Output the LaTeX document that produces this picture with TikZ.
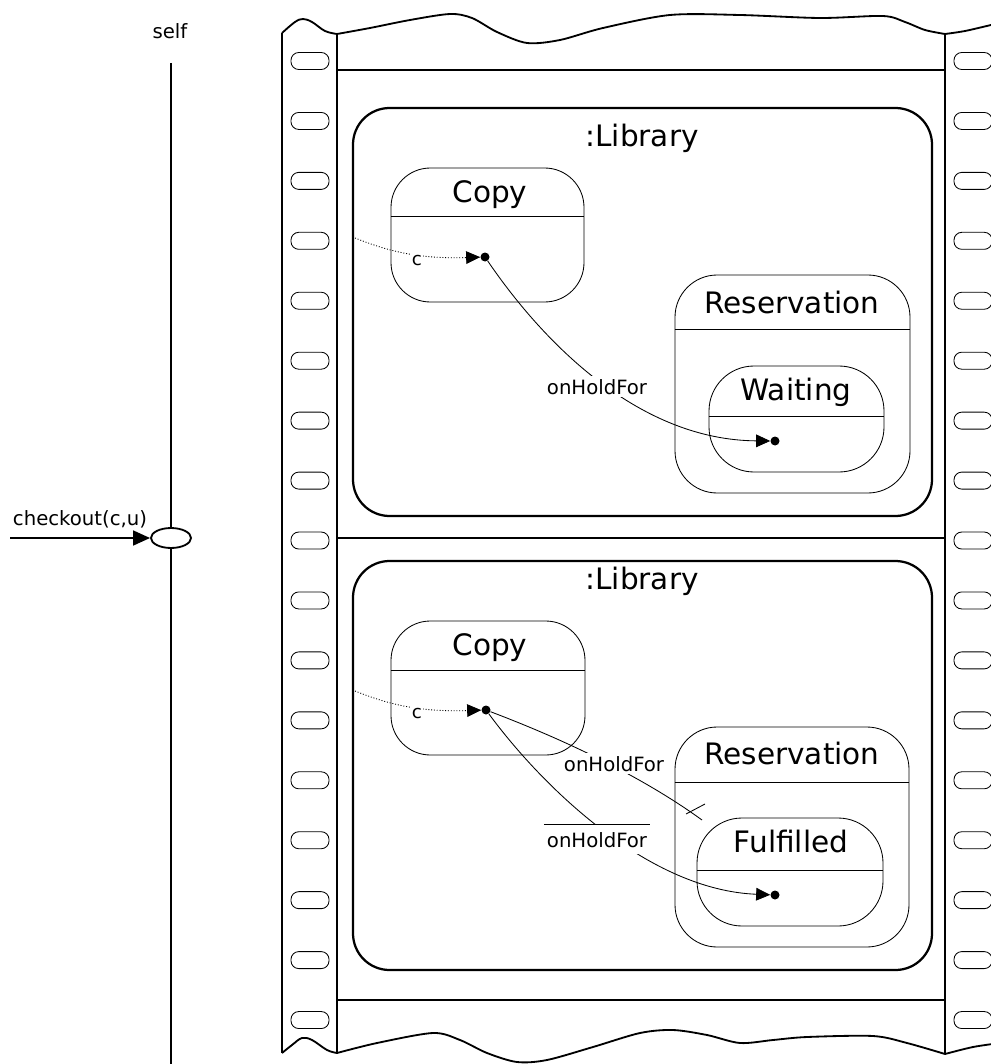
\documentclass[tikz,border=0pt]{standalone}
\usepackage{fontspec}
\setmainfont{DejaVu Sans}
\usetikzlibrary{arrows.meta,shapes.geometric,fit,calc}
\begin{document}
\begin{tikzpicture}[x=0.025cm,y=-0.025cm,
  big/.style={font=\fontsize{21pt}{25pt}\selectfont, anchor=base, inner sep=0pt},
  small/.style={font=\fontsize{14pt}{16pt}\selectfont, anchor=base},
  strip/.style={line width=1.3pt},
  hole/.style={line width=0.6pt, rounded corners=5.5pt},
  libbox/.style={draw, line width=1.6pt, rounded corners=26pt, inner sep=0pt},
  statebox/.style={draw, line width=0.6pt, rounded corners=28pt, inner sep=0pt},
  dotn/.style={circle, fill, inner sep=0pt, minimum size=6.4pt},
  conn/.style={line width=0.6pt},
  arr/.style={-{Triangle[length=10pt,width=9pt]}},
  lbl/.style={small, fill=white, inner sep=2pt},
  dots/.style={dash pattern=on 0.7pt off 1.3pt},
]
\useasboundingbox (0,0) rectangle (991,1064);
\clip (0,0) rectangle (991,1064);

% ---------- film strip ----------
\draw[strip] plot[smooth, tension=0.6] coordinates {(282,33) (295,22) (303,19) (312,22) (325,31) (337,34)};
\draw[strip] plot[smooth] coordinates {(337,34) (370,28) (410,20) (450,14) (472,18) (497,32) (527,43) (560,40) (603,28) (670,15) (740,15) (820,18) (883,16) (905,22) (925,30) (945,34)};
\draw[strip] plot[smooth] coordinates {(945,34) (965,31) (991,25) (1000,23)};
\draw[strip] plot[smooth, tension=0.6] coordinates {(282,1053) (292,1045) (302,1038) (312,1040) (327,1050) (337,1053)};
\draw[strip] plot[smooth] coordinates {(337,1053) (377,1043) (433,1033) (460,1040) (487,1053) (517,1062) (547,1060) (593,1047) (640,1033) (673,1030) (707,1035) (740,1043) (773,1040) (807,1037) (873,1036) (907,1043) (945,1054)};
\draw[strip] plot[smooth] coordinates {(945,1054) (973,1047) (1000,1043)};
\draw[strip] (282,33) -- (282,1053);
\draw[strip] (337,34) -- (337,1053);
\draw[strip] (945,34) -- (945,1054);
\draw[strip] (337,70) -- (945,70);
\draw[strip] (337,538) -- (945,538);
\draw[strip] (337,1000) -- (945,1000);
\foreach \i in {0,...,16} {
  \pgfmathsetmacro\yy{61+59.94*\i}
  \draw[hole] (291,\yy-8.5) rectangle (329,\yy+8.5);
  \draw[hole] (954,\yy-8.5) rectangle (992,\yy+8.5);
}

% ---------- lifeline ----------
\node[small] (self) at (170,39) {self};
\node[draw, ellipse, line width=1.3pt, minimum width=28.5pt, minimum height=14.2pt, inner sep=0pt] (act) at (171,538) {};
\coordinate (lltop) at (171,63);
\coordinate (llbot) at (171,1070);
\draw[line width=1.2pt] (lltop) -- (act);
\draw[line width=1.2pt] (act) -- (llbot);
\coordinate (msg) at (10,538);
\draw[line width=1.5pt, -{Triangle[length=12pt,width=10.5pt]}] (msg) -- (act);
\node[small] (chk) at (80,525) {checkout(c,u)};

% ---------- top panel ----------
\node[libbox, fit={(353,108) (932,516)}] (lib1) {};
\node[big] (lib1t) at (642,147) {:Library};
\node[statebox, fit={(391,168) (584,302)}] (copy1) {};
\draw[conn] (copy1.west |- 0,216) -- (copy1.east |- 0,216);
\node[big] (copy1t) at (490,202) {Copy};
\node[statebox, rounded corners=30pt, fit={(675,275) (910,493)}] (res1) {};
\draw[conn] (res1.west |- 0,329) -- (res1.east |- 0,329);
\node[big] (res1t) at (792,313) {Reservation};
\node[statebox, rounded corners=32pt, fit={(709,366) (884,472)}] (wait) {};
\draw[conn] (wait.west |- 0,416) -- (wait.east |- 0,416);
\node[big] (waitt) at (796,400) {Waiting};
\node[dotn] (d1) at (485,257) {};
\node[dotn] (d2) at (775,441) {};
\coordinate (cin1) at (355,238);
\draw[conn, dots, arr] (cin1) .. controls (390,252) and (420,259) .. (d1);
\node[small, fill=white, inner sep=1pt, font=\fontsize{13pt}{15pt}\selectfont] (c1) at (417,265) {c};
\draw[conn, arr] (d1) .. controls (545,345) and (640,440) .. (d2);
\node[lbl] (h1) at (597,394) {onHoldFor};

% ---------- bottom panel ----------
\node[libbox, fit={(353,561) (932,970)}] (lib2) {};
\node[big] (lib2t) at (642,589) {:Library};
\node[statebox, fit={(391,621) (585,755)}] (copy2) {};
\draw[conn] (copy2.west |- 0,670) -- (copy2.east |- 0,670);
\node[big] (copy2t) at (490,655) {Copy};
\node[statebox, rounded corners=30pt, fit={(675,727) (909,947)}] (res2) {};
\draw[conn] (res2.west |- 0,782) -- (res2.east |- 0,782);
\node[big] (res2t) at (792,764) {Reservation};
\node[statebox, rounded corners=32pt, fit={(697,818) (883,926)}] (ful) {};
\draw[conn] (ful.west |- 0,870) -- (ful.east |- 0,870);
\node[big] (fult) at (791,852) {Fulfilled};
\node[dotn] (d3) at (486,710) {};
\node[dotn] (d4) at (775,895) {};
\coordinate (cin2) at (355,691);
\draw[conn, dots, arr] (cin2) .. controls (390,705) and (420,712) .. (d3);
\node[small, fill=white, inner sep=1pt, font=\fontsize{13pt}{15pt}\selectfont] (c2) at (417,718) {c};
\coordinate (xend) at (702,820);
\draw[conn] (d3) .. controls (560,738) and (640,775) .. (xend);
\draw[conn] (686,814) -- (705,804);
\node[lbl] (h2) at (614,771) {onHoldFor};
\draw[conn, arr] (d3) .. controls (545,790) and (650,890) .. (d4);
\node[lbl, inner ysep=5pt] (h3) at (597,847) {onHoldFor};
\draw[conn] (h3.north west) -- (h3.north east);
\end{tikzpicture}
\end{document}
